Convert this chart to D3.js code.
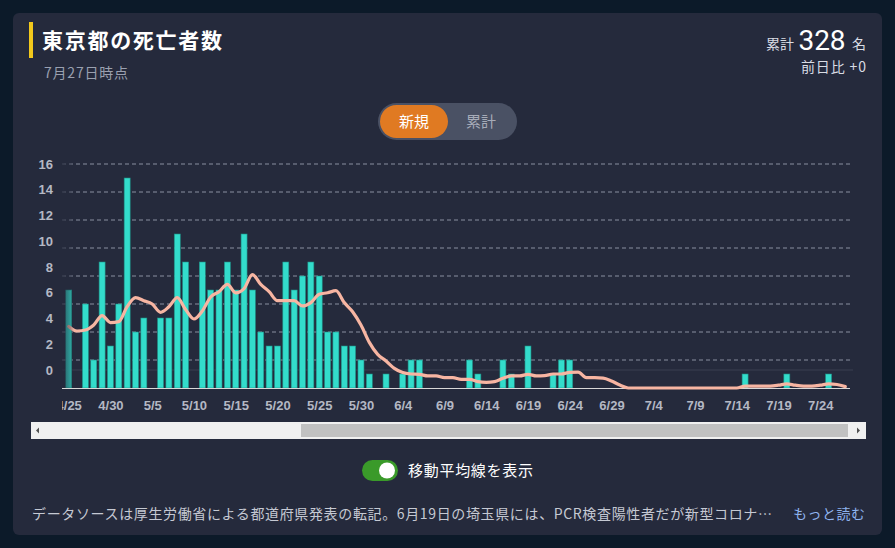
<!DOCTYPE html>
<html><head><meta charset="utf-8">
<script src="https://cdn.jsdelivr.net/npm/d3@7"></script>
<style>
html,body{margin:0;padding:0;background:#0c1a29;}
svg{display:block;}
</style></head>
<body>
<svg id="chart" width="895" height="548"></svg>
<script>
const dates = [
"4/25","4/26","4/27","4/28","4/29","4/30",
"5/1","5/2","5/3","5/4","5/5","5/6","5/7","5/8","5/9","5/10","5/11","5/12","5/13","5/14","5/15","5/16","5/17","5/18","5/19","5/20","5/21","5/22","5/23","5/24","5/25","5/26","5/27","5/28","5/29","5/30","5/31",
"6/1","6/2","6/3","6/4","6/5","6/6","6/7","6/8","6/9","6/10","6/11","6/12","6/13","6/14","6/15","6/16","6/17","6/18","6/19","6/20","6/21","6/22","6/23","6/24","6/25","6/26","6/27","6/28","6/29","6/30",
"7/1","7/2","7/3","7/4","7/5","7/6","7/7","7/8","7/9","7/10","7/11","7/12","7/13","7/14","7/15","7/16","7/17","7/18","7/19","7/20","7/21","7/22","7/23","7/24","7/25","7/26","7/27"];
const newDeaths = [
7,0,6,2,9,3,
6,15,4,5,0,5,5,11,9,0,9,7,7,9,7,11,7,4,3,3,9,7,8,9,8,4,4,3,3,2,1,
0,1,0,1,2,2,0,0,0,0,0,2,1,0,0,2,1,0,3,0,0,1,2,2,0,0,0,0,0,0,
0,0,0,0,0,0,0,0,0,0,0,0,0,0,1,0,0,0,0,1,0,0,0,0,1,0,0];
const movingAvg = [
4.4,4.07,4.14,4.5,5.17,4.67,
4.74,5.81,6.45,6.24,6.0,5.4,5.8,6.45,5.6,4.93,5.5,6.5,6.88,7.4,6.8,7.1,8.1,7.4,6.88,6.24,6.24,6.24,5.86,6.1,6.7,6.8,6.95,6.1,5.45,4.5,3.26,
2.4,1.93,1.4,1.1,1.0,0.98,0.86,0.86,0.74,0.74,0.62,0.62,0.45,0.4,0.45,0.69,0.86,0.86,0.98,0.86,0.88,1.0,1.0,1.12,1.14,0.74,0.74,0.71,0.5,0.21,
0,0,0,0,0,0,0,0,0,0,0,0,0,0,0.14,0.14,0.14,0.14,0.2,0.3,0.2,0.14,0.14,0.2,0.3,0.25,0.1];
const yTicks = [0,2,4,6,8,10,12,14,16];
const xTickLabels = ["4/25","4/30","5/5","5/10","5/15","5/20","5/25","5/30","6/4","6/9","6/14","6/19","6/24","6/29","7/4","7/9","7/14","7/19","7/24"];

const svg = d3.select("#chart");
const JP = "'Noto Sans CJK JP','Noto Sans',sans-serif";
const NUM = "'Liberation Sans',Arial,sans-serif";

// card
svg.append("rect").attr("x",13).attr("y",13).attr("width",869).attr("height",522).attr("rx",6).attr("fill","#252a3c");

// header
svg.append("rect").attr("x",29).attr("y",22).attr("width",4).attr("height",36).attr("fill","#f2c81c");
svg.append("text").attr("x",42).attr("y",48).attr("fill","#ffffff").attr("font-family",JP).attr("font-weight","bold").attr("font-size",21)
  .attr("textLength",180).attr("lengthAdjust","spacing").text("東京都の死亡者数");
svg.append("text").attr("x",44).attr("y",78).attr("fill","#9aa0b0").attr("font-family",JP).attr("font-size",14)
  .attr("textLength",84).attr("lengthAdjust","spacing").text("7月27日時点");

svg.append("text").attr("x",766).attr("y",49).attr("fill","#d9dce4").attr("font-family",JP).attr("font-size",14).text("累計");
svg.append("text").attr("x",822).attr("y",50).attr("text-anchor","middle").attr("fill","#ffffff").attr("font-size",28).attr("font-family","Roboto,'Noto Sans',sans-serif").text("328");
svg.append("text").attr("x",852).attr("y",49).attr("fill","#d9dce4").attr("font-family",JP).attr("font-size",14).text("名");
svg.append("text").attr("x",866).attr("y",72).attr("text-anchor","end").attr("fill","#d9dce4").attr("font-family",JP).attr("font-size",14)
  .attr("textLength",65).attr("lengthAdjust","spacing").text("前日比 +0");

// toggle
svg.append("rect").attr("x",378).attr("y",103).attr("width",139).attr("height",37).attr("rx",18.5).attr("fill","#4a5164");
svg.append("rect").attr("x",380).attr("y",105).attr("width",68).attr("height",33).attr("rx",16.5).attr("fill","#e07a22");
svg.append("text").attr("x",414).attr("y",127).attr("text-anchor","middle").attr("fill","#fff").attr("font-family",JP).attr("font-size",15).text("新規");
svg.append("text").attr("x",481).attr("y",127).attr("text-anchor","middle").attr("fill","#a6abb8").attr("font-family",JP).attr("font-size",15).text("累計");

// scales
const x = d3.scalePoint().domain(dates).range([68.7, 845.3]);
const y = d3.scaleLinear().domain([0,16]).range([388,164]);
const yLab = d3.scaleLinear().domain([0,16]).range([370,164]);
const barW = 6;

svg.append("clipPath").attr("id","plotclip").append("rect").attr("x",62).attr("y",150).attr("width",795).attr("height",270);
const plot = svg.append("g").attr("clip-path","url(#plotclip)");

// gridlines
plot.append("g").selectAll("line").data(yTicks.filter(d=>d>0)).join("line")
  .attr("x1",62).attr("x2",850).attr("y1",d=>y(d)).attr("y2",d=>y(d))
  .attr("stroke","#8a8fa0").attr("stroke-width",1).attr("stroke-dasharray","4,3");
plot.append("line").attr("x1",62).attr("x2",853).attr("y1",yLab(0)).attr("y2",yLab(0)).attr("stroke","#3a3f50").attr("stroke-width",1);

// bars
plot.append("g").selectAll("rect").data(dates.map((d,i)=>({d, v:newDeaths[i]})).filter(o=>o.v>0)).join("rect")
  .attr("x",o=>x(o.d)-barW/2).attr("y",o=>y(o.v)).attr("width",barW).attr("height",o=>y(0)-y(o.v))
  .attr("fill","#33dccb").attr("stroke","#1f8f86").attr("stroke-width",0.6);

// baseline
plot.append("line").attr("x1",62).attr("x2",850).attr("y1",388.5).attr("y2",388.5).attr("stroke","#d8d8d8").attr("stroke-width",1);

// moving average line
const line = d3.line().x((d,i)=>x(dates[i])).y(d=>y(d)).curve(d3.curveMonotoneX);
plot.append("path").datum(movingAvg).attr("d",line).attr("fill","none").attr("stroke","#f7b5a2").attr("stroke-width",3.2).attr("stroke-linecap","round");

// x axis
const xAxis = d3.axisBottom(x).tickValues(xTickLabels).tickSize(0).tickPadding(0);
const xg = plot.append("g").attr("transform","translate(0,401)").call(xAxis);
xg.select(".domain").remove();
xg.selectAll("text").attr("fill","#b4b8c4").attr("font-family",NUM).attr("font-weight","bold").attr("font-size",13).attr("dy","0.71em");

// left fade
const grad = svg.append("defs").append("linearGradient").attr("id","fade").attr("x1","0").attr("x2","1");
grad.append("stop").attr("offset","0").attr("stop-color","#252a3c").attr("stop-opacity",0.75);
grad.append("stop").attr("offset","0.7").attr("stop-color","#252a3c").attr("stop-opacity",0.35);
grad.append("stop").attr("offset","1").attr("stop-color","#252a3c").attr("stop-opacity",0);
svg.append("rect").attr("x",62).attr("y",160).attr("width",12).attr("height",228).attr("fill","url(#fade)");

// y axis labels
const yAxis = d3.axisLeft(yLab).tickValues(yTicks).tickSize(0).tickPadding(0);
const yg = svg.append("g").attr("transform","translate(53,0)").call(yAxis);
yg.select(".domain").remove();
yg.selectAll("text").attr("fill","#b4b8c4").attr("font-family",NUM).attr("font-weight","bold").attr("font-size",13);

// scrollbar
svg.append("rect").attr("x",31).attr("y",422).attr("width",835).attr("height",17).attr("fill","#f0f0f0");
svg.append("rect").attr("x",301).attr("y",424).attr("width",547).attr("height",13).attr("fill","#c1c1c1");
svg.append("path").attr("d","M36,430.5 L39,427.5 L39,433.5 Z").attr("fill","#505050");
svg.append("path").attr("d","M860,430.5 L857,427.5 L857,433.5 Z").attr("fill","#505050");

// moving average toggle
svg.append("rect").attr("x",362).attr("y",460).attr("width",36).attr("height",21).attr("rx",10.5).attr("fill","#3a9a2a");
svg.append("circle").attr("cx",387).attr("cy",470.5).attr("r",8).attr("fill","#ffffff");
svg.append("text").attr("x",408).attr("y",476).attr("fill","#ffffff").attr("font-family",JP).attr("font-size",15)
  .attr("textLength",125).attr("lengthAdjust","spacing").text("移動平均線を表示");

// footnote
svg.append("text").attr("x",32).attr("y",519).attr("fill","#c5c9d3").attr("font-family",JP).attr("font-size",14)
  .attr("textLength",740).attr("lengthAdjust","spacing")
  .text("データソースは厚生労働省による都道府県発表の転記。6月19日の埼玉県には、PCR検査陽性者だが新型コロナ…");
svg.append("text").attr("x",793).attr("y",519).attr("fill","#8fb3ee").attr("font-family",JP).attr("font-size",14)
  .attr("textLength",72).attr("lengthAdjust","spacing").text("もっと読む");
</script>
</body></html>
